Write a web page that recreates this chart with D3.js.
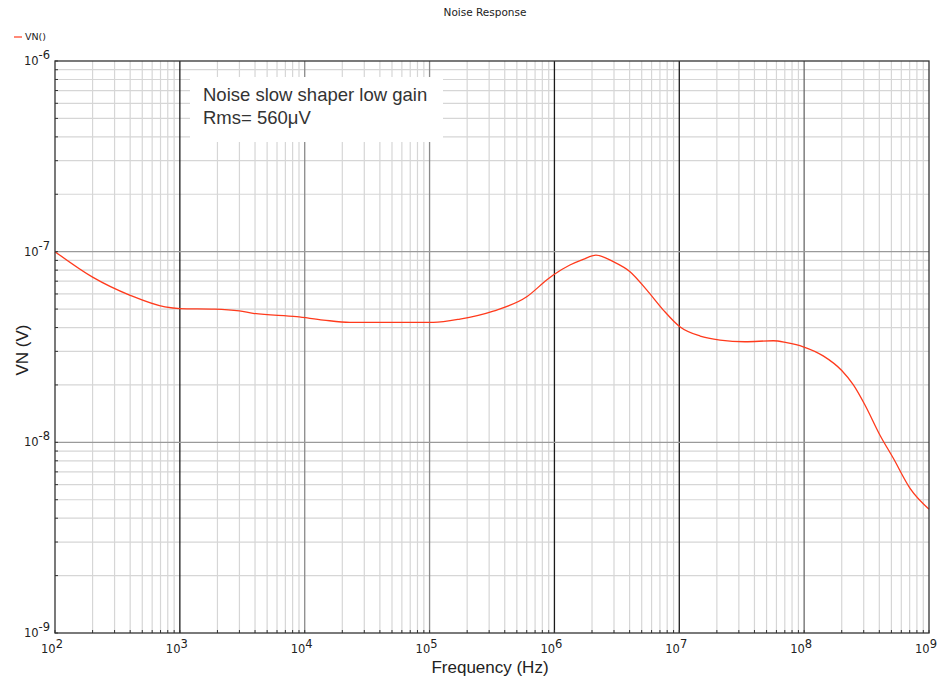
<!DOCTYPE html>
<html><head><meta charset="utf-8">
<script src="https://cdn.jsdelivr.net/npm/d3@7"></script>
<style>
html,body{margin:0;padding:0;background:#fff;}
svg{display:block;}
</style></head>
<body>
<svg id="chart" width="944" height="679"></svg>
<script>
const title = "Noise Response";
const legendLabel = "VN()";
const xTitle = "Frequency (Hz)";
const yTitle = "VN (V)";
const noteLines = ["Noise slow shaper low gain", "Rms= 560\u03bcV"];
const xExponents = [2, 3, 4, 5, 6, 7, 8, 9];
const yExponents = [-6, -7, -8, -9];
const freq = [100, 200, 400, 760, 1000, 1900, 3000, 3860, 8630, 14100,
  23000, 107000, 175000, 324000, 600000, 867000, 979000, 1.33e6, 1.70e6, 2.15e6,
  2.96e6, 4.03e6, 5.48e6, 7.45e6, 1.01e7, 1.47e7, 2.12e7, 3.36e7, 5.66e7, 7.24e7,
  9.84e7, 1.42e8, 2.0e8, 2.48e8, 3.07e8, 4.05e8, 5.18e8, 7.05e8, 1e9];
const vn = [1.0e-7, 7.35e-8, 5.9e-8, 5.13e-8, 5.03e-8, 5.0e-8, 4.89e-8, 4.75e-8, 4.56e-8, 4.38e-8,
  4.26e-8, 4.26e-8, 4.43e-8, 4.88e-8, 5.8e-8, 7.1e-8, 7.54e-8, 8.51e-8, 9.12e-8, 9.6e-8,
  8.86e-8, 7.85e-8, 6.3e-8, 4.94e-8, 4.04e-8, 3.61e-8, 3.44e-8, 3.37e-8, 3.41e-8, 3.33e-8,
  3.17e-8, 2.84e-8, 2.38e-8, 2.0e-8, 1.57e-8, 1.09e-8, 8.25e-9, 5.74e-9, 4.46e-9];

const svg = d3.select("#chart");
const L = 55, R = 929, T = 61, B = 633;
const x = d3.scaleLog().domain([1e2, 1e9]).range([L, R]);
const y = d3.scaleLog().domain([1e-9, 1e-6]).range([B, T]);

// minor grid
const g = svg.append("g");
const minorX = [];
for (let e = 2; e < 9; e++) for (let m = 2; m <= 9; m++) minorX.push(m * Math.pow(10, e));
const minorY = [];
for (let e = -9; e < -6; e++) for (let m = 2; m <= 9; m++) minorY.push(m * Math.pow(10, e));
g.selectAll(".mx").data(minorX).enter().append("line")
  .attr("x1", d => x(d)).attr("x2", d => x(d)).attr("y1", T).attr("y2", B)
  .attr("stroke", "#d6d6d6").attr("stroke-width", 1.2);
g.selectAll(".my").data(minorY).enter().append("line")
  .attr("y1", d => y(d)).attr("y2", d => y(d)).attr("x1", L).attr("x2", R)
  .attr("stroke", "#d6d6d6").attr("stroke-width", 1.2);
// major grid
const darkMajors = [3, 6, 7];
g.selectAll(".Mx").data(xExponents.slice(1, -1)).enter().append("line")
  .attr("x1", d => x(Math.pow(10, d))).attr("x2", d => x(Math.pow(10, d)))
  .attr("y1", T).attr("y2", B)
  .attr("stroke", d => darkMajors.includes(d) ? "#1a1a1a" : (d === 8 ? "#6a6a6a" : "#8a8a8a")).attr("stroke-width", 1.3);
g.selectAll(".My").data(yExponents.slice(1, -1)).enter().append("line")
  .attr("y1", d => y(Math.pow(10, d))).attr("y2", d => y(Math.pow(10, d)))
  .attr("x1", L).attr("x2", R)
  .attr("stroke", "#9a9a9a").attr("stroke-width", 1.3);

// annotation box
svg.append("rect").attr("x", 190).attr("y", 77).attr("width", 253).attr("height", 65).attr("fill", "#fff");
svg.append("g").selectAll("text").data(noteLines).enter().append("text")
  .attr("x", 203).attr("y", (d, i) => 101 + i * 23)
  .attr("font-family", "Liberation Sans, Arial, sans-serif").attr("font-size", 18.5)
  .attr("fill", "#333").text(d => d);

// curve
const pts = freq.map((f, i) => [f, vn[i]]);
svg.append("path").datum(pts)
  .attr("d", d3.line().x(d => x(d[0])).y(d => y(d[1])).curve(d3.curveMonotoneX))
  .attr("fill", "none").attr("stroke", "#ff3a1c").attr("stroke-width", 1.3);

// frame
svg.append("rect").attr("x", L).attr("y", T).attr("width", R - L).attr("height", B - T)
  .attr("fill", "none").attr("stroke", "#333").attr("stroke-width", 1.3);

// small ticks
const tk = svg.append("g").attr("stroke", "#333").attr("stroke-width", 1);
tk.selectAll(".tx").data(minorX.concat(xExponents.map(e => Math.pow(10, e)))).enter().append("line")
  .attr("x1", d => x(d)).attr("x2", d => x(d)).attr("y1", B).attr("y2", B - 3);
tk.selectAll(".ty").data(minorY.concat(yExponents.map(e => Math.pow(10, e)))).enter().append("line")
  .attr("y1", d => y(d)).attr("y2", d => y(d)).attr("x1", L).attr("x2", L + 3);

// tick labels
const font = "DejaVu Sans, Verdana, sans-serif";
const xl = svg.append("g").selectAll("text").data(xExponents).enter().append("text")
  .attr("x", d => x(Math.pow(10, d)) - 3).attr("y", B + 20)
  .attr("text-anchor", "middle").attr("font-family", font).attr("font-size", 11.5).attr("fill", "#222");
xl.append("tspan").text("10");
xl.append("tspan").attr("dy", -5).attr("font-size", 11.5).text(d => d);
const yl = svg.append("g").selectAll("text").data(yExponents).enter().append("text")
  .attr("x", 50).attr("y", d => y(Math.pow(10, d)) + 4)
  .attr("text-anchor", "end").attr("font-family", font).attr("font-size", 11.5).attr("fill", "#222");
yl.append("tspan").text("10");
yl.append("tspan").attr("dy", -6).text(d => String(d));

// titles
svg.append("text").attr("x", 485).attr("y", 16).attr("text-anchor", "middle")
  .attr("font-family", font).attr("font-size", 10.5).attr("fill", "#222").text(title);
svg.append("text").attr("x", 490).attr("y", 673).attr("text-anchor", "middle")
  .attr("font-family", "Liberation Sans, Arial, sans-serif").attr("font-size", 17).attr("fill", "#222").text(xTitle);
svg.append("text").attr("transform", "translate(28,350) rotate(-90)").attr("text-anchor", "middle")
  .attr("font-family", "Liberation Sans, Arial, sans-serif").attr("font-size", 17).attr("fill", "#222").text(yTitle);

// legend
svg.append("line").attr("x1", 14).attr("x2", 22).attr("y1", 37).attr("y2", 37)
  .attr("stroke", "#ff3a1c").attr("stroke-width", 1.2);
svg.append("text").attr("x", 25).attr("y", 40).attr("font-family", font).attr("font-size", 9.5)
  .attr("fill", "#222").text(legendLabel);
</script>
</body></html>
